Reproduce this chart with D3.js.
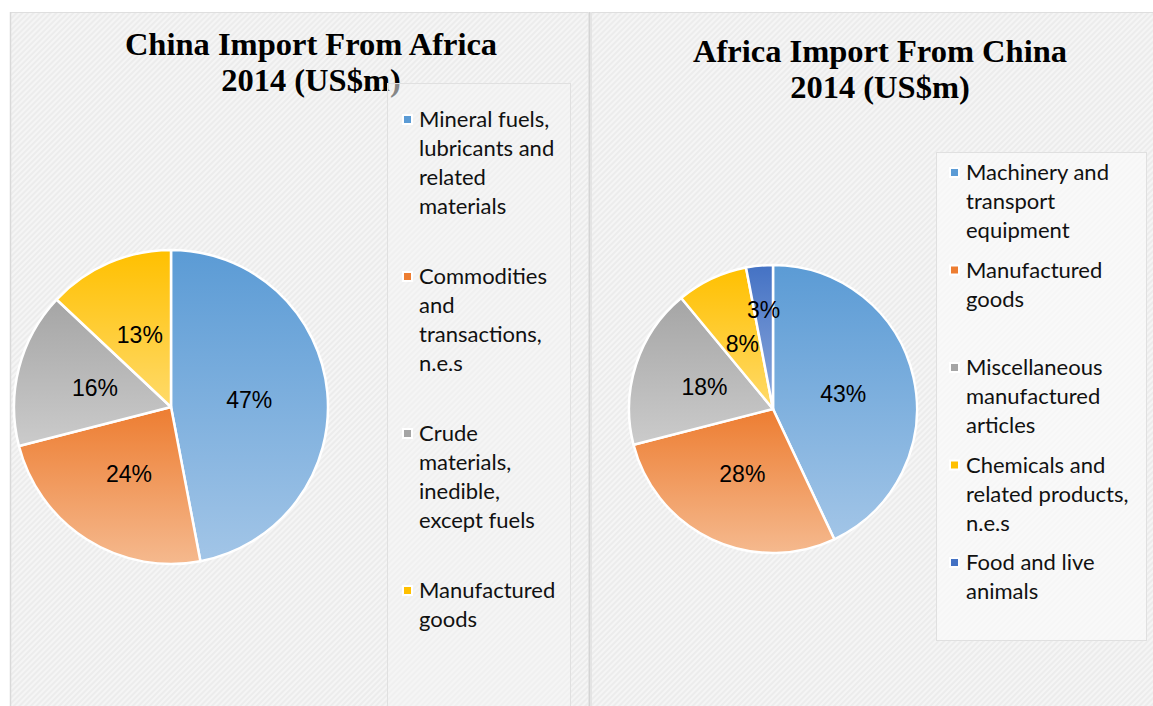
<!DOCTYPE html>
<html>
<head>
<meta charset="utf-8">
<script src="https://cdn.jsdelivr.net/npm/d3@7"></script>
<style>
  body { margin: 0; background: #fff; }
</style>
</head>
<body>
<div id="chart"></div>
<script>
// China import from Africa 2014 (shares of total, %)
const chinaCategories = [
  ["Mineral fuels,", "lubricants and", "related", "materials"],
  ["Commodities", "and", "transactions,", "n.e.s"],
  ["Crude", "materials,", "inedible,", "except fuels"],
  ["Manufactured", "goods"]
];
const chinaShares = [47, 24, 16, 13];

// Africa import from China 2014 (shares of total, %)
const africaCategories = [
  ["Machinery and", "transport", "equipment"],
  ["Manufactured", "goods"],
  ["Miscellaneous", "manufactured", "articles"],
  ["Chemicals and", "related products,", "n.e.s"],
  ["Food and live", "animals"]
];
const africaShares = [43, 28, 18, 8, 3];

// top / bottom colour of each slice gradient
const sliceColors = [
  ["#5b9bd5", "#a2c5e7"],
  ["#ed7d31", "#f5b98e"],
  ["#a5a5a5", "#cbcbcb"],
  ["#ffc000", "#ffda6a"],
  ["#4472c4", "#8faadc"]
];

const W = 1153, H = 706;

const svg = d3.select("#chart")
  .append("svg")
    .attr("width", W)
    .attr("height", H);

const defs = svg.append("defs");

// subtle diagonal hatch like the office background
const hatch = defs.append("pattern")
    .attr("id", "hatch")
    .attr("width", 4)
    .attr("height", 4)
    .attr("patternUnits", "userSpaceOnUse")
    .attr("patternTransform", "rotate(45)");
hatch.append("rect").attr("width", 4).attr("height", 4).attr("fill", "#f5f5f5");
hatch.append("rect").attr("width", 2).attr("height", 4).attr("fill", "#ececec");

sliceColors.forEach((c, i) => {
  const g = defs.append("linearGradient")
      .attr("id", "grad" + i)
      .attr("x1", 0).attr("y1", 0)
      .attr("x2", 0).attr("y2", 1);
  g.append("stop").attr("offset", "0%").attr("stop-color", c[0]);
  g.append("stop").attr("offset", "100%").attr("stop-color", c[1]);
});

// panels
svg.append("rect")
    .attr("x", 10).attr("y", 12)
    .attr("width", 578).attr("height", H - 12)
    .attr("fill", "url(#hatch)");
svg.append("rect")
    .attr("x", 592).attr("y", 12)
    .attr("width", W - 592).attr("height", H - 12)
    .attr("fill", "url(#hatch)");
// borders
svg.append("line").attr("x1", 10).attr("x2", W).attr("y1", 12.5).attr("y2", 12.5)
    .attr("stroke", "#dedede").attr("stroke-width", 1);
svg.append("line").attr("x1", 10.5).attr("x2", 10.5).attr("y1", 12).attr("y2", H)
    .attr("stroke", "#d9d9d9").attr("stroke-width", 1.5);
svg.append("rect").attr("x", 588).attr("y", 12).attr("width", 4).attr("height", H - 12)
    .attr("fill", "#e4e4e4");
svg.append("line").attr("x1", 589.5).attr("x2", 589.5).attr("y1", 12).attr("y2", H)
    .attr("stroke", "#d4d4d4").attr("stroke-width", 1);

const panels = [
  {
    title: ["China Import From Africa", "2014 (US$m)"],
    titleX: 311, titleY: 55,
    cx: 171, cy: 407, r: 157,
    shares: chinaShares, categories: chinaCategories,
    legendBox: {x: 387, y: 83, w: 183, h: 640, fill: "rgba(244,244,244,0.55)"},
    legendX: 403, legendY: 127, legendStep: 157
  },
  {
    title: ["Africa Import From China", "2014 (US$m)"],
    titleX: 880, titleY: 62,
    cx: 773, cy: 409, r: 144,
    shares: africaShares, categories: africaCategories,
    legendBox: {x: 936, y: 152, w: 210, h: 488, fill: "rgba(250,250,250,0.75)"},
    legendX: 950, legendY: 180, legendStep: 97.5
  }
];

panels.forEach(p => {
  // title, one text per line
  p.title.forEach((line, i) => {
    svg.append("text")
        .attr("x", p.titleX)
        .attr("y", p.titleY + i * 36)
        .attr("text-anchor", "middle")
        .style("font-family", "'Liberation Serif', 'DejaVu Serif', serif")
        .style("font-weight", "bold")
        .style("font-size", "32.5px")
        .attr("fill", "#000")
        .text(line);
  });

  // pie
  const pie = d3.pie().sort(null).value(d => d);
  const arcs = pie(p.shares);
  const arc = d3.arc().innerRadius(0).outerRadius(p.r);
  const g = svg.append("g").attr("transform", `translate(${p.cx},${p.cy})`);

  g.selectAll("path")
    .data(arcs)
    .enter()
    .append("path")
      .attr("d", arc)
      .attr("fill", (d, i) => `url(#grad${i})`)
      .attr("stroke", "#fff")
      .attr("stroke-width", 2.5)
      .attr("stroke-linejoin", "round");

  // data labels, small slices are pushed outward a bit
  g.selectAll(".lbl")
    .data(arcs)
    .enter()
    .append("text")
      .attr("class", "lbl")
      .attr("transform", d => {
        const k = d.data < 5 ? 0.69 : 0.5;
        const a = d3.arc().innerRadius(p.r * k).outerRadius(p.r * k);
        return `translate(${a.centroid(d)})`;
      })
      .attr("text-anchor", "middle")
      .attr("dy", "0.36em")
      .style("font-family", "'Liberation Sans', Arial, sans-serif")
      .style("font-size", "23px")
      .attr("fill", "#000")
      .text(d => d.data + "%");

  // legend box (drawn over the title, like the original)
  const lb = p.legendBox;
  svg.append("rect")
      .attr("x", lb.x + 0.5).attr("y", lb.y + 0.5)
      .attr("width", lb.w).attr("height", lb.h)
      .attr("fill", lb.fill)
      .attr("stroke", "#e0e0e0")
      .attr("stroke-width", 1);

  const items = svg.append("g").selectAll("g")
    .data(p.categories)
    .enter()
    .append("g")
      .attr("transform", (d, i) => `translate(${p.legendX},${p.legendY + i * p.legendStep})`);

  items.append("rect")
      .attr("x", 0).attr("y", -12)
      .attr("width", 9).attr("height", 9)
      .attr("fill", (d, i) => sliceColors[i][0])
      .attr("stroke", "#fff")
      .attr("stroke-width", 2);

  items.append("text")
      .style("font-family", "Lato, 'Open Sans', sans-serif")
      .style("font-size", "22px")
      .attr("fill", "#111")
      .selectAll("tspan")
      .data(d => d)
      .enter()
      .append("tspan")
        .attr("x", 16)
        .attr("y", (d, i) => i * 29)
        .text(d => d);
});
</script>
</body>
</html>
